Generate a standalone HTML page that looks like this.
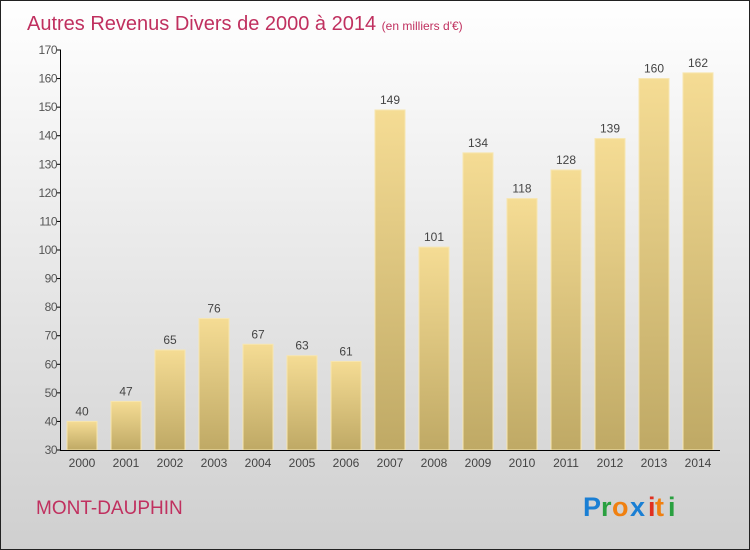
<!DOCTYPE html>
<html><head><meta charset="utf-8"><style>
body{margin:0;width:750px;height:550px;overflow:hidden}
svg{display:block;font-family:"Liberation Sans",sans-serif}
</style></head><body>
<svg width="750" height="550">
<defs>
<linearGradient id="bg" x1="0" y1="0" x2="0" y2="1"><stop offset="0" stop-color="#ffffff"/><stop offset="1" stop-color="#cfcfcf"/></linearGradient>
<linearGradient id="bar" x1="0" y1="0" x2="0" y2="1"><stop offset="0" stop-color="#f5dc94"/><stop offset="1" stop-color="#bfa965"/></linearGradient>
</defs>
<rect x="0.5" y="0.5" width="749" height="549" fill="url(#bg)" stroke="#222"/>
<text x="27" y="30" font-size="20" fill="#c0305f">Autres Revenus Divers de 2000 à 2014 <tspan font-size="12">(en milliers d'€)</tspan></text>
<g id="plot"></g>
<text x="36" y="514" font-size="19" fill="#c0305f">MONT-DAUPHIN</text>
<g font-size="27" font-weight="bold">
<text x="583" y="516" fill="#1a7fd4">P</text><text x="601" y="516" fill="#2aa040">r</text><text x="612" y="516" fill="#f08010">o</text><text x="630" y="516" fill="#1a7fd4">x</text><text x="648" y="516" fill="#e03020">i</text><text x="655" y="516" fill="#f08010">t</text><text x="668" y="516" fill="#2aa040">i</text>
</g>
</svg>
<script>
const years=["2000","2001","2002","2003","2004","2005","2006","2007","2008","2009","2010","2011","2012","2013","2014"];
const values=[40,47,65,76,67,63,61,149,101,134,118,128,139,160,162];
const yTicks=[30,40,50,60,70,80,90,100,110,120,130,140,150,160,170];
const NS="http://www.w3.org/2000/svg";
const g=document.getElementById('plot');
const y=v=>450-(v-30)*400/140;
const x=i=>82+i*44;
function el(t,a,txt){const e=document.createElementNS(NS,t);for(const k in a)e.setAttribute(k,a[k]);if(txt!==undefined)e.textContent=txt;g.appendChild(e);return e;}
values.forEach((v,i)=>{
 const r=el('rect',{x:x(i)-15,y:y(v),width:30,height:450-y(v),fill:'url(#bar)',stroke:'#f7e6b0','stroke-width':1});
 
 
 const t=el('text',{x:x(i),y:y(v)-6,'text-anchor':'middle','font-size':12,fill:'#444'},String(v));
 
 
 const tl=el('text',{x:x(i),y:467,'text-anchor':'middle','font-size':12,fill:'#444'},years[i]);
 
 
});
const ax=el('path',{d:'M60.5 50V450.5H720',stroke:'#000',fill:'none'});


yTicks.forEach(v=>{
 const tk=el('line',{x1:57,x2:61,y1:y(v),y2:y(v),stroke:'#000'});
 
 
 const t=el('text',{x:57,y:y(v)+4,'text-anchor':'end','font-size':12,fill:'#555','letter-spacing':'-0.5'},String(v));
 
 
});
</script>
</body></html>
